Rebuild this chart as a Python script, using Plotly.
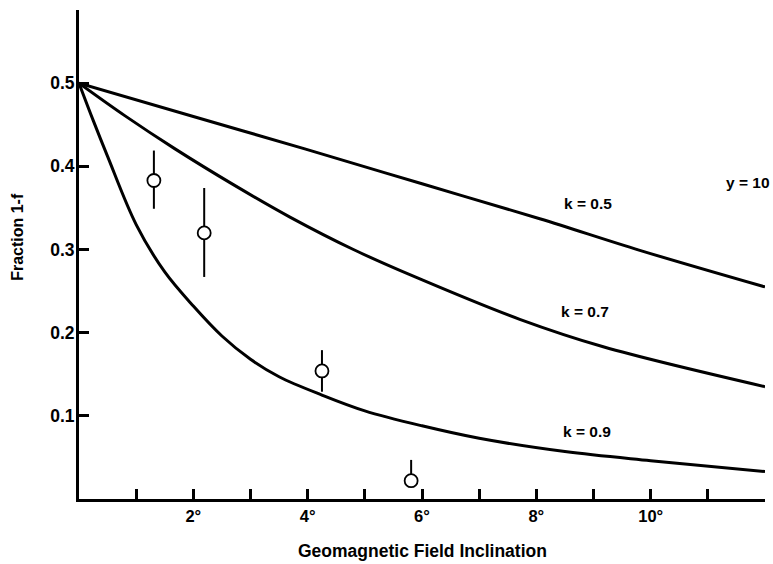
import plotly.graph_objects as go

# Curves
k05_x = [0, 2, 3.95, 6, 8.06, 9.81, 12]
k05_y = [0.5, 0.46, 0.421, 0.379, 0.337, 0.299, 0.255]

k07_x = [0, 0.8, 1.68, 2.7, 3.69, 4.8, 5.88, 7.71, 9.17, 12]
k07_y = [0.5, 0.461, 0.421, 0.378, 0.339, 0.300, 0.267, 0.216, 0.183, 0.135]

k09_x = [0, 0.25, 0.5, 1.0, 1.5, 2.0, 2.5, 3.0, 3.5, 4.25, 5.0, 6.0, 7.0, 8.5, 10.0, 12.0]
k09_y = [0.5, 0.455, 0.412, 0.33, 0.273, 0.232, 0.196, 0.168, 0.147, 0.125, 0.106, 0.088, 0.073, 0.057, 0.046, 0.033]

# Observations
obs_x = [1.31, 2.19, 4.25, 5.81]
obs_y = [0.383, 0.320, 0.154, 0.022]
obs_err_plus = [0.036, 0.054, 0.025, 0.025]
obs_err_minus = [0.034, 0.053, 0.025, 0.0]

x_tickvals = [2, 4, 6, 8, 10]
x_ticktext = ["2°", "4°", "6°", "8°", "10°"]
x_minor = [1, 3, 5, 7, 9, 11]
y_tickvals = [0.1, 0.2, 0.3, 0.4, 0.5]
y_ticktext = ["0.1", "0.2", "0.3", "0.4", "0.5"]

curve_labels = ["k = 0.5", "k = 0.7", "k = 0.9"]
curve_label_x = [8.9, 8.85, 8.89]
curve_label_y = [0.355, 0.225, 0.081]

FONT = "Liberation Sans, Arial, Helvetica, sans-serif"

fig = go.Figure()
for xs, ys in [(k05_x, k05_y), (k07_x, k07_y), (k09_x, k09_y)]:
    fig.add_trace(go.Scatter(x=xs, y=ys, mode="lines",
                             line=dict(color="black", width=3, shape="spline"),
                             showlegend=False, hoverinfo="skip"))

fig.add_trace(go.Scatter(
    x=obs_x, y=obs_y, mode="markers",
    marker=dict(symbol="circle", size=13, color="white",
                line=dict(color="black", width=1.8)),
    error_y=dict(type="data", symmetric=False, array=obs_err_plus,
                 arrayminus=obs_err_minus, color="black", thickness=2, width=0),
    showlegend=False))

for t, x, y in zip(curve_labels, curve_label_x, curve_label_y):
    fig.add_annotation(x=x, y=y, text=t, showarrow=False,
                       font=dict(family=FONT, size=15.5, color="black", weight="bold"))

fig.add_annotation(xref="paper", x=1.010, xanchor="right", y=0.38,
                   text="y = 10", showarrow=False,
                   font=dict(family=FONT, size=15.5, color="black", weight="bold"))

fig.add_annotation(xref="paper", yref="paper", x=0.5, y=-0.106,
                   xanchor="center", yanchor="middle",
                   text="Geomagnetic Field Inclination", showarrow=False,
                   font=dict(family=FONT, size=17.5, color="black", weight="bold"))
fig.add_annotation(xref="paper", yref="paper", x=-0.089, y=0.536,
                   xanchor="center", yanchor="middle",
                   text="Fraction 1-f", showarrow=False, textangle=-90,
                   font=dict(family=FONT, size=16, color="black", weight="bold"))

fig.update_xaxes(range=[0, 12], showgrid=False, zeroline=False,
                 showline=True, linecolor="black", linewidth=3,
                 tickmode="array", tickvals=x_tickvals, ticktext=x_ticktext,
                 ticks="inside", ticklen=10, tickwidth=2.5, tickcolor="black",
                 minor=dict(tickmode="array", tickvals=x_minor, ticks="inside",
                            ticklen=10, tickwidth=2.5, tickcolor="black"),
                 tickfont=dict(family=FONT, size=16.5, color="black", weight="bold"))
fig.update_yaxes(range=[0, 0.588], showgrid=False, zeroline=False,
                 showline=True, linecolor="black", linewidth=3,
                 tickmode="array", tickvals=y_tickvals, ticktext=y_ticktext,
                 ticks="inside", ticklen=10, tickwidth=2.5, tickcolor="black",
                 ticklabelstandoff=-2,
                 tickfont=dict(family=FONT, size=17.5, color="black", weight="bold"))

fig.update_layout(width=773, height=564,
                  margin=dict(l=79, r=8, t=10, b=65),
                  plot_bgcolor="white", paper_bgcolor="white")

# remove the page's default body margin so the figure sits at the window origin
fig.write_html("out.html", config={"displayModeBar": False},
               post_script="document.body.style.margin='0';document.body.style.overflow='hidden';")
